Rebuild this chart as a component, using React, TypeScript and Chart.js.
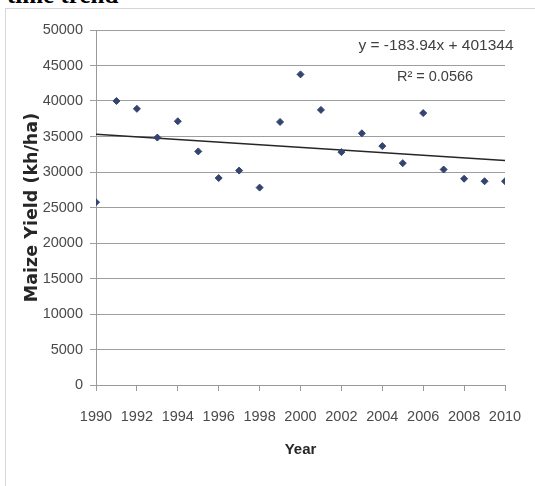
import React, { useEffect, useRef } from "react";
import { Chart, registerables } from "chart.js";

Chart.register(...registerables);

// ---- data ----
const years: number[] = [1990, 1991, 1992, 1993, 1994, 1995, 1996, 1997, 1998, 1999, 2000, 2001, 2002, 2003, 2004, 2005, 2006, 2007, 2008, 2009, 2010];
const maizeYield: number[] = [25750, 40000, 38900, 34850, 37150, 32900, 29150, 30200, 27800, 37050, 43750, 38750, 32800, 35450, 33650, 31250, 38300, 30350, 29050, 28700, 28700];
const trendSlope = -183.94;
const trendIntercept = 401344;
const trendYears: number[] = [1990, 2010];
const equationText = "y = -183.94x + 401344";
const r2Text = "R\u00B2 = 0.0566";
const pageTitle = "time trend";
const xTitle = "Year";
const yTitle = "Maize Yield (kh/ha)";
const xMin = 1990, xMax = 2010, xStep = 2;
const yMin = 0, yMax = 50000, yStep = 5000;

const SANS = '"Liberation Sans", Arial, sans-serif';

const equationPlugin = {
  id: "equationText",
  afterDraw(chart: any) {
    const { ctx, chartArea } = chart;
    ctx.save();
    ctx.fillStyle = "#404040";
    ctx.textAlign = "center";
    ctx.textBaseline = "middle";
    ctx.font = `15.5px ${SANS}`;
    ctx.fillText(equationText, chartArea.right - 69, chartArea.top + 16);
    ctx.font = `14.5px ${SANS}`;
    ctx.fillText(r2Text, chartArea.right - 70, chartArea.top + 47);
    ctx.restore();
  },
};

export default function App() {
  const canvasRef = useRef<HTMLCanvasElement | null>(null);

  useEffect(() => {
    if (!canvasRef.current) return;
    const points = years.map((y, i) => ({ x: y, y: maizeYield[i] }));
    const trend = trendYears.map((y) => ({ x: y, y: trendSlope * y + trendIntercept }));
    const chart = new Chart(canvasRef.current, {
      type: "scatter",
      data: {
        datasets: [
          {
            label: "Maize yield",
            data: points,
            pointStyle: "rectRot",
            pointRadius: 3.5,
            pointBackgroundColor: "#34446f",
            pointBorderColor: "#34446f",
            pointBorderWidth: 1,
            showLine: false,
          },
          {
            label: "Trend",
            data: trend,
            showLine: true,
            borderColor: "#262626",
            borderWidth: 1.5,
            pointRadius: 0,
            fill: false,
          },
        ],
      },
      options: {
        animation: false,
        responsive: false,
        maintainAspectRatio: false,
        layout: { padding: { left: 0, top: 30, right: 30, bottom: 0 } },
        plugins: { legend: { display: false }, tooltip: { enabled: false }, title: { display: false } },
        scales: {
          x: {
            type: "linear",
            min: xMin,
            max: xMax,
            afterFit(scale: any) {
              scale.height = 101;
              scale.paddingLeft = 0;
              scale.paddingRight = 0;
            },
            ticks: {
              stepSize: xStep,
              color: "#4a4a4a",
              font: { family: SANS, size: 14.5 },
              padding: 17,
              maxRotation: 0,
              autoSkip: false,
              callback: (v: any) => String(v),
            },
            grid: {
              drawOnChartArea: false,
              drawTicks: true,
              tickLength: 6,
              color: "#9a9a9a",
            },
            border: { display: true, color: "#9a9a9a", width: 1 },
            title: {
              display: true,
              text: xTitle,
              color: "#262626",
              font: { family: SANS, size: 15, weight: "bold" },
              padding: { top: 0, bottom: 27 },
            },
          },
          y: {
            type: "linear",
            min: yMin,
            max: yMax,
            afterFit(scale: any) {
              scale.width = 96;
              scale.paddingTop = 0;
              scale.paddingBottom = 0;
            },
            ticks: {
              stepSize: yStep,
              color: "#4a4a4a",
              font: { family: SANS, size: 14.5 },
              padding: 7,
              callback: (v: any) => String(v),
            },
            grid: {
              drawOnChartArea: true,
              drawTicks: true,
              tickLength: 6,
              color: "#9e9e9e",
              lineWidth: 1,
            },
            border: { display: true, color: "#9a9a9a", width: 1 },
            title: {
              display: true,
              text: yTitle,
              color: "#262626",
              font: { family: '"DejaVu Sans", sans-serif', size: 17.5, weight: "bold" },
              padding: { top: 21.5, bottom: 0 },
            },
          },
        },
      },
      plugins: [equationPlugin],
    });
    return () => chart.destroy();
  }, []);

  return (
    <div style={{ position: "fixed", left: 0, top: 0, width: 535, height: 486, overflow: "hidden", background: "#fff" }}>
      <div
        style={{
          position: "absolute",
          left: 7,
          top: -18,
          font: 'bold 25px "Liberation Serif", "Times New Roman", serif',
          lineHeight: "25px",
          color: "#000",
          whiteSpace: "nowrap",
        }}
      >
        {pageTitle}
      </div>
      <div
        style={{
          position: "absolute",
          left: 5,
          top: 8,
          width: 560,
          height: 500,
          border: "1px solid #d6d6d6",
        }}
      />
      <canvas ref={canvasRef} width={535} height={486} style={{ position: "absolute", left: 0, top: 0, display: "block" }} />
    </div>
  );
}
